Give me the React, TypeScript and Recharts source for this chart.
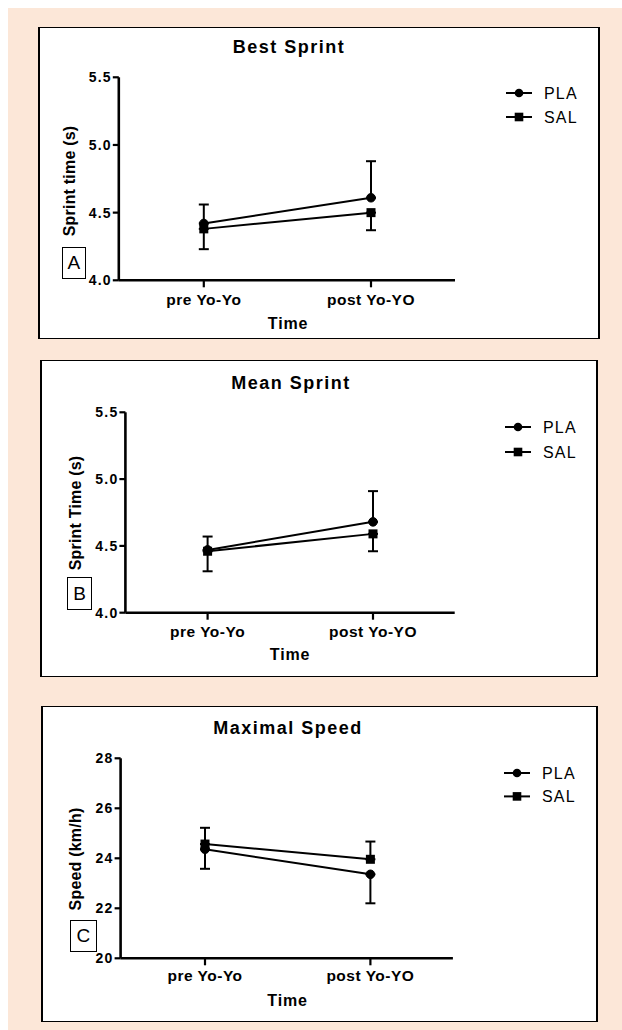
import React from "react";
import { LineChart, Line, XAxis, YAxis, ErrorBar, Legend } from "recharts";

const categories = ["pre Yo-Yo", "post Yo-YO"];

// A - best sprint time (s)
const bestPLA = [4.42, 4.61];
const bestPLAErr = [0.14, 0.27];
const bestSAL = [4.38, 4.5];
const bestSALErr = [0.15, 0.13];

// B - mean sprint time (s)
const meanPLA = [4.47, 4.68];
const meanPLAErr = [0.1, 0.23];
const meanSAL = [4.46, 4.59];
const meanSALErr = [0.15, 0.13];

// C - maximal speed (km/h)
const speedPLA = [24.36, 23.36];
const speedPLAErr = [0.78, 1.16];
const speedSAL = [24.57, 23.96];
const speedSALErr = [0.65, 0.71];

const sprintTicks = [4.0, 4.5, 5.0, 5.5];
const speedTicks = [20, 22, 24, 26, 28];

const PEACH = "#FCE7D8";
const FONT = "'Liberation Sans', Arial, Helvetica, sans-serif";

// error bars only go one way (up or down) like the original plot
const makeRows = (
  pla: number[],
  plaErr: number[],
  plaUp: boolean,
  sal: number[],
  salErr: number[],
  salUp: boolean
) =>
  categories.map((time, i) => ({
    time,
    pla: pla[i],
    sal: sal[i],
    plaErr: plaUp ? [0, plaErr[i]] : [plaErr[i], 0],
    salErr: salUp ? [0, salErr[i]] : [salErr[i], 0],
  }));

const panels = [
  {
    id: "A",
    rows: makeRows(bestPLA, bestPLAErr, true, bestSAL, bestSALErr, false),
    domain: [4, 5.5],
    ticks: sprintTicks,
    fmt: (v: number) => v.toFixed(1),
    title: "Best Sprint",
    yLabel: "Sprint time (s)",
    x: 38, y: 27, w: 562, h: 312,
    axisX: 80.8, top: 50.3, plotW: 336.2, plotH: 203,
    padL: 85, padR: 84, xTickMargin: 6.3,
    titlePos: [251, 19.7], yLabelPos: [32, 154], timePos: [250, 297],
    letterBox: [23.5, 219.7, 24.5, 32.6],
    legend: { x: 468, y: 65.7, gap: 24 },
  },
  {
    id: "B",
    rows: makeRows(meanPLA, meanPLAErr, true, meanSAL, meanSALErr, false),
    domain: [4, 5.5],
    ticks: sprintTicks,
    fmt: (v: number) => v.toFixed(1),
    title: "Mean Sprint",
    yLabel: "Sprint Time (s)",
    x: 40, y: 360, w: 558, h: 317,
    axisX: 85.4, top: 52.3, plotW: 329.3, plotH: 200.4,
    padL: 82.2, padR: 81.7, xTickMargin: 6.6,
    titlePos: [251, 23], yLabelPos: [36, 153], timePos: [250, 295],
    letterBox: [27, 216.7, 25.2, 33.3],
    legend: { x: 464.6, y: 66.7, gap: 25 },
  },
  {
    id: "C",
    rows: makeRows(speedPLA, speedPLAErr, false, speedSAL, speedSALErr, true),
    domain: [20, 28],
    ticks: speedTicks,
    fmt: (v: number) => String(v),
    title: "Maximal Speed",
    yLabel: "Speed (km/h)",
    x: 41, y: 706, w: 557, h: 316,
    axisX: 79.6, top: 52.3, plotW: 332.3, plotH: 200,
    padL: 84.4, padR: 82.5, xTickMargin: 4.3,
    titlePos: [247, 22.3], yLabelPos: [35, 153], timePos: [246.5, 294.7],
    letterBox: [29, 214, 26.6, 31.7],
    legend: { x: 462.5, y: 67.3, gap: 23.4 },
  },
];

// no body margin: the page is laid out in absolute page coordinates
const pageCss = `
html, body { margin: 0; padding: 0; overflow: hidden; }
.recharts-cartesian-axis-line { stroke: #000; stroke-width: 2.6px; }
.recharts-cartesian-axis-tick-line { stroke: #000; stroke-width: 2.2px; }
`;

const Centered = ({ x, y, size, weight, spacing, rotate, children }: any) => (
  <div
    style={{
      position: "absolute",
      left: x,
      top: y,
      transform: `translate(-50%, -50%)${rotate ? " rotate(-90deg)" : ""}`,
      fontSize: size,
      fontWeight: weight,
      letterSpacing: spacing,
      lineHeight: 1,
      whiteSpace: "nowrap",
      color: "#000",
    }}
  >
    {children}
  </div>
);

const SquareDot = (props: any) => {
  const { cx, cy, index } = props;
  if (cx == null || cy == null) return null;
  return <rect key={`sq-${index}`} x={cx - 4.5} y={cy - 4.5} width={9} height={9} fill="#000" />;
};

const renderLegend = (gap: number) => (props: any) => {
  const items = props.payload || [];
  return (
    <svg width={90} height={20 + gap} style={{ display: "block", overflow: "visible" }}>
      {items.map((entry: any, i: number) => {
        const y = 10 + i * gap;
        return (
          <g key={entry.value}>
            <line x1={0} x2={26} y1={y} y2={y} stroke="#000" strokeWidth={2} />
            {i === 0 ? (
              <circle cx={13} cy={y} r={4.3} fill="#000" />
            ) : (
              <rect x={8.7} y={y - 4.3} width={8.6} height={8.6} fill="#000" />
            )}
            <text x={38} y={y} dy="0.36em" fontSize={16} letterSpacing={1.2} fill="#000">
              {entry.value}
            </text>
          </g>
        );
      })}
    </svg>
  );
};

function Panel({ p }: { p: any }) {
  const right = p.w - p.axisX - p.plotW;
  const [lx, ly, lw, lh] = p.letterBox;
  return (
    <div
      style={{
        position: "absolute",
        left: p.x,
        top: p.y,
        width: p.w,
        height: p.h,
        background: "#fff",
      }}
    >
      <LineChart
        width={p.w}
        height={p.h}
        data={p.rows}
        margin={{ top: p.top, right, bottom: 0, left: 0 }}
      >
        <XAxis
          dataKey="time"
          type="category"
          interval={0}
          padding={{ left: p.padL, right: p.padR }}
          height={p.h - p.top - p.plotH}
          stroke="#000"
          axisLine={{ stroke: "#000", strokeWidth: 2.6 }}
          tickLine={{ stroke: "#000", strokeWidth: 2.2 }}
          tickSize={7}
          tickMargin={p.xTickMargin}
          tick={{ fill: "#000", stroke: "none", fontSize: 15.5, fontWeight: 700, letterSpacing: 0.5 }}
        />
        <YAxis
          type="number"
          domain={p.domain}
          ticks={p.ticks}
          interval={0}
          width={p.axisX}
          tickFormatter={p.fmt}
          stroke="#000"
          axisLine={{ stroke: "#000", strokeWidth: 2.6 }}
          tickLine={{ stroke: "#000", strokeWidth: 2.2 }}
          tickSize={6}
          tickMargin={1}
          tick={{ fill: "#000", stroke: "none", fontSize: 14, fontWeight: 700, letterSpacing: 1.2 }}
        />
        <Legend
          layout="vertical"
          align="center"
          verticalAlign="middle"
          wrapperStyle={{ left: p.legend.x, top: p.legend.y - 10, width: 90, height: 20 + p.legend.gap }}
          content={renderLegend(p.legend.gap)}
        />
        <Line
          name="PLA"
          dataKey="pla"
          stroke="#000"
          strokeWidth={2}
          dot={{ r: 4.3, fill: "#000", stroke: "#000", strokeWidth: 1 }}
          activeDot={false}
          isAnimationActive={false}
        >
          <ErrorBar dataKey="plaErr" direction="y" width={5} stroke="#000" strokeWidth={2} isAnimationActive={false} />
        </Line>
        <Line
          name="SAL"
          dataKey="sal"
          stroke="#000"
          strokeWidth={2}
          dot={SquareDot}
          activeDot={false}
          isAnimationActive={false}
        >
          <ErrorBar dataKey="salErr" direction="y" width={5} stroke="#000" strokeWidth={2} isAnimationActive={false} />
        </Line>
      </LineChart>

      <div
        style={{
          position: "absolute",
          inset: 0,
          boxSizing: "border-box",
          borderStyle: "solid",
          borderColor: "#000",
          borderWidth: "1.5px 2px",
          pointerEvents: "none",
        }}
      />

      <Centered x={p.titlePos[0]} y={p.titlePos[1]} size={18} weight={700} spacing={1.5}>
        {p.title}
      </Centered>
      <Centered x={p.timePos[0]} y={p.timePos[1]} size={16} weight={700} spacing={0.8}>
        Time
      </Centered>
      <Centered x={p.yLabelPos[0]} y={p.yLabelPos[1]} size={16} weight={700} spacing={0.2} rotate>
        {p.yLabel}
      </Centered>
      <div
        style={{
          position: "absolute",
          left: lx,
          top: ly,
          width: lw,
          height: lh,
          boxSizing: "border-box",
          border: "1.5px solid #000",
          display: "flex",
          alignItems: "center",
          justifyContent: "center",
          fontSize: 19,
          lineHeight: 1,
          color: "#000",
        }}
      >
        {p.id}
      </div>
    </div>
  );
}

export default function App() {
  return (
    <>
      <style>{pageCss}</style>
      <div
        style={{
          position: "relative",
          width: 622,
          height: 1030,
          background: "#fff",
          fontFamily: FONT,
          overflow: "hidden",
        }}
      >
        <div style={{ position: "absolute", left: 8, top: 8, right: 0, bottom: 0, background: PEACH }} />
        {panels.map((p) => (
          <Panel key={p.id} p={p} />
        ))}
      </div>
    </>
  );
}
